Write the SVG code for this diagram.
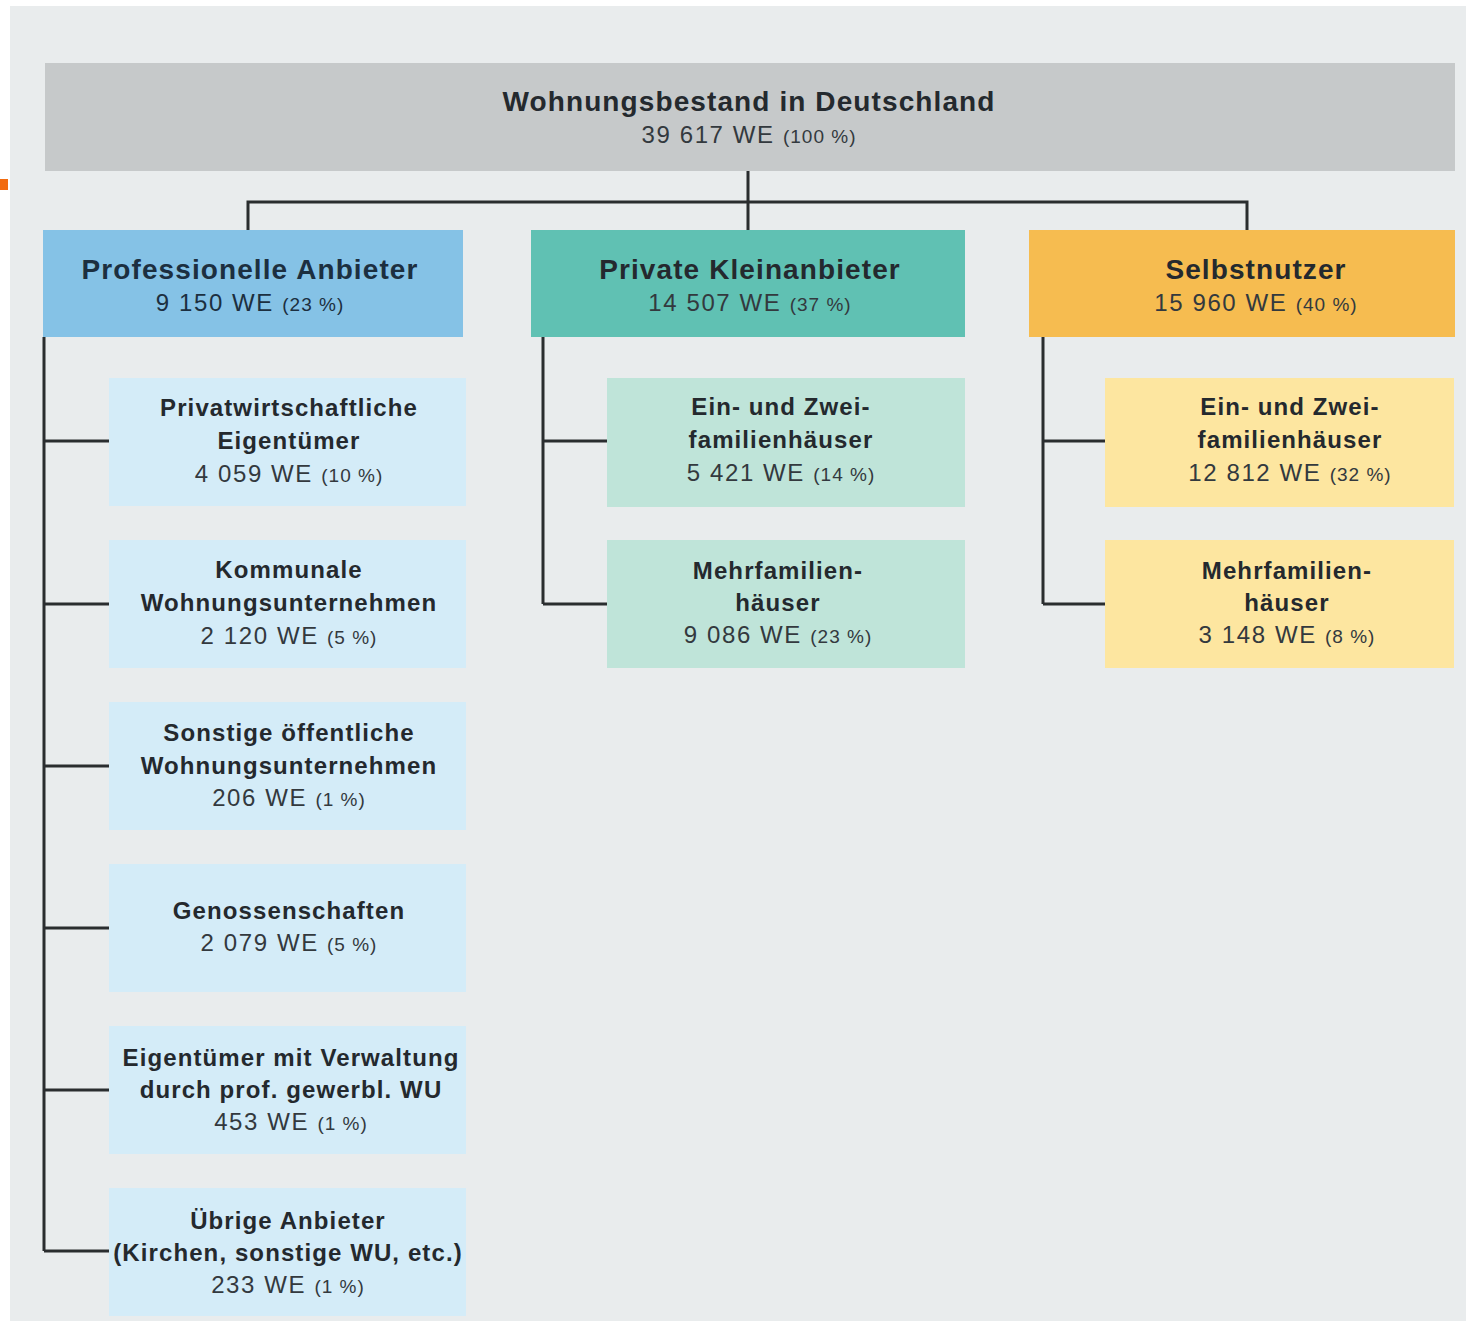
<svg xmlns="http://www.w3.org/2000/svg" width="1466" height="1321" viewBox="0 0 1466 1321">
<style>
text{font-family:"Liberation Sans",Arial,sans-serif;text-anchor:middle;fill:#24292e}
.t{font-weight:bold;font-size:24px;letter-spacing:1.1px}
.h{font-weight:bold;font-size:28px;letter-spacing:1.1px}
.n{font-size:24px;letter-spacing:1.6px;fill:#33393e}
.nh{font-size:24px;letter-spacing:1.6px;fill:#33393e}
.p{font-size:19px;letter-spacing:1px}
.blue{fill:#1c2f40}
.conn{stroke:#2a2d2f;stroke-width:3;fill:none}
.cL{fill:#d4ecf8}.cM{fill:#bfe4d9}.cR{fill:#fde6a0}
</style>
<rect x="0" y="0" width="1466" height="1321" fill="#ffffff"/>
<rect x="10" y="6" width="1456" height="1315" fill="#e9eced"/>
<rect x="0" y="179" width="8" height="11" fill="#f26b10"/>

<g id="connectors" class="conn">
<path d="M748 171V230M248 230V202H1247V230"/>
<path d="M44 337V1251M44 441H110M44 604H110M44 766H110M44 928H110M44 1090H110M44 1251H110"/>
<path d="M543 337V604M543 441H607M543 604H607"/>
<path d="M1043 337V604M1043 441H1105M1043 604H1105"/>
</g>

<g id="root">
<rect x="45" y="63" width="1410" height="108" fill="#c6c9ca"/>
<text class="h" x="749" y="111">Wohnungsbestand in Deutschland</text>
<text class="nh" x="749" y="143">39 617 WE <tspan class="p">(100 %)</tspan></text>
</g>

<g id="prof">
<rect x="43" y="230" width="420" height="107" fill="#85c2e6"/>
<text class="h blue" x="250" y="279">Professionelle Anbieter</text>
<text class="nh blue" x="250" y="311">9 150 WE <tspan class="p">(23 %)</tspan></text>
</g>
<g id="privat">
<rect x="531" y="230" width="434" height="107" fill="#60c1b3"/>
<text class="h" x="750" y="279">Private Kleinanbieter</text>
<text class="nh" x="750" y="311">14 507 WE <tspan class="p">(37 %)</tspan></text>
</g>
<g id="selbst">
<rect x="1029" y="230" width="426" height="107" fill="#f6bc50"/>
<text class="h" x="1256" y="279">Selbstnutzer</text>
<text class="nh" x="1256" y="311">15 960 WE <tspan class="p">(40 %)</tspan></text>
</g>

<g id="prof1">
<rect class="cL" x="109" y="378" width="357" height="128"/>
<text class="t" x="289" y="416">Privatwirtschaftliche</text>
<text class="t" x="289" y="449">Eigentümer</text>
<text class="n" x="289" y="482">4 059 WE <tspan class="p">(10 %)</tspan></text>
</g>
<g id="prof2">
<rect class="cL" x="109" y="540" width="357" height="128"/>
<text class="t" x="289" y="578">Kommunale</text>
<text class="t" x="289" y="611">Wohnungsunternehmen</text>
<text class="n" x="289" y="644">2 120 WE <tspan class="p">(5 %)</tspan></text>
</g>
<g id="prof3">
<rect class="cL" x="109" y="702" width="357" height="128"/>
<text class="t" x="289" y="741">Sonstige öffentliche</text>
<text class="t" x="289" y="774">Wohnungsunternehmen</text>
<text class="n" x="289" y="806">206 WE <tspan class="p">(1 %)</tspan></text>
</g>
<g id="prof4">
<rect class="cL" x="109" y="864" width="357" height="128"/>
<text class="t" x="289" y="919">Genossenschaften</text>
<text class="n" x="289" y="951">2 079 WE <tspan class="p">(5 %)</tspan></text>
</g>
<g id="prof5">
<rect class="cL" x="109" y="1026" width="357" height="128"/>
<text class="t" x="291" y="1066">Eigentümer mit Verwaltung</text>
<text class="t" x="291" y="1098">durch prof. gewerbl. WU</text>
<text class="n" x="291" y="1130">453 WE <tspan class="p">(1 %)</tspan></text>
</g>
<g id="prof6">
<rect class="cL" x="109" y="1188" width="357" height="128"/>
<text class="t" x="288" y="1229">Übrige Anbieter</text>
<text class="t" x="288" y="1261">(Kirchen, sonstige WU, etc.)</text>
<text class="n" x="288" y="1293">233 WE <tspan class="p">(1 %)</tspan></text>
</g>

<g id="privat1">
<rect class="cM" x="607" y="378" width="358" height="129"/>
<text class="t" x="781" y="415">Ein- und Zwei-</text>
<text class="t" x="781" y="448">familienhäuser</text>
<text class="n" x="781" y="481">5 421 WE <tspan class="p">(14 %)</tspan></text>
</g>
<g id="privat2">
<rect class="cM" x="607" y="540" width="358" height="128"/>
<text class="t" x="778" y="579">Mehrfamilien-</text>
<text class="t" x="778" y="611">häuser</text>
<text class="n" x="778" y="643">9 086 WE <tspan class="p">(23 %)</tspan></text>
</g>

<g id="selbst1">
<rect class="cR" x="1105" y="378" width="349" height="129"/>
<text class="t" x="1290" y="415">Ein- und Zwei-</text>
<text class="t" x="1290" y="448">familienhäuser</text>
<text class="n" x="1290" y="481">12 812 WE <tspan class="p">(32 %)</tspan></text>
</g>
<g id="selbst2">
<rect class="cR" x="1105" y="540" width="349" height="128"/>
<text class="t" x="1287" y="579">Mehrfamilien-</text>
<text class="t" x="1287" y="611">häuser</text>
<text class="n" x="1287" y="643">3 148 WE <tspan class="p">(8 %)</tspan></text>
</g>
</svg>
